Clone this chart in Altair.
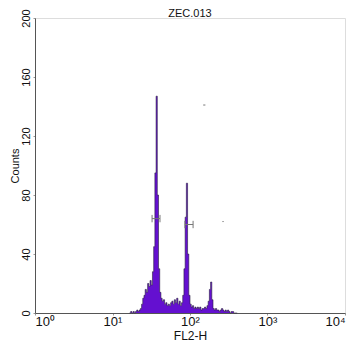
import altair as alt
import pandas as pd

# histogram channels (256-channel log scale, 64 channels per decade)
channels = list(range(78, 168))
counts = [
    0, 1, 0, 1, 0, 1, 2,            # 78-84
    1, 2, 3, 6, 10,                 # 85-89
    12, 16, 14, 20, 18,             # 90-94
    22, 19, 28, 45, 95,             # 95-99
    147, 80, 30, 14, 10,            # 100-104
    8, 9, 6, 7, 5,                  # 105-109
    6, 5, 7, 8, 6,                  # 110-114
    9, 7, 10, 6, 8,                 # 115-119
    5, 7, 12, 30, 65,               # 120-124
    88, 40, 12, 6,                  # 125-128
    4, 5, 3, 4, 3, 4,               # 129-134
    3, 4, 2, 3, 3, 4,               # 135-140
    3, 5, 8, 16, 21,                # 141-145
    9, 3,                           # 146-147
    2, 3, 2, 2, 1, 2, 3, 2,         # 148-155
    1, 2, 1, 2, 1, 0, 1,            # 156-162
    1, 0, 0, 0, 0,                  # 163-167
]

# gate markers (x-start, x-end, y)
gate_x1 = [32.4, 86.0, 148.0, 262.0]
gate_x2 = [41.0, 109.6, 158.0, 272.0]
gate_y = [64, 60, 141, 62]
gate_cap = [True, True, False, False]

x_ticks = [1, 10, 100, 1000, 10000]
y_ticks = [0, 40, 80, 120, 160, 200]

hist = pd.DataFrame({
    "lo": [10 ** (c / 64) for c in channels],
    "count": counts,
})

gates = pd.DataFrame({"x1": gate_x1, "x2": gate_x2, "y": gate_y})
caps = pd.DataFrame({
    "x": [v for i, v in enumerate(gate_x1) if gate_cap[i]] + [v for i, v in enumerate(gate_x2) if gate_cap[i]],
    "y": [gate_y[i] for i in range(len(gate_y)) if gate_cap[i]] * 2,
})
caps["ylo"] = caps["y"] - 2.5
caps["yhi"] = caps["y"] + 2.5

font = "Liberation Sans"

xscale = alt.Scale(type="log", domain=[1, 10000])
yscale = alt.Scale(domain=[0, 200])

xaxis = alt.Axis(
    values=x_ticks,
    labelExpr="datum.value == 1 ? '10⁰' : datum.value == 10 ? '10¹' : datum.value == 100 ? '10²' : datum.value == 1000 ? '10³' : '10⁴'",
    grid=False, tickSize=2, tickColor="#999", domainColor="#555",
    labelFont=font, labelFontSize=13, labelColor="#111", labelPadding=0,
    title="FL2-H", titleFont=font, titleFontSize=12, titleFontWeight="normal",
    titleColor="#111", titlePadding=2,
)
yaxis = alt.Axis(
    values=y_ticks, grid=False, tickSize=2, tickColor="#999", domainColor="#555",
    labelFont=font, labelFontSize=11, labelColor="#111", labelAngle=270,
    labelAlign="center", labelBaseline="bottom", labelPadding=2,
    title="Counts", titleFont=font, titleFontSize=11, titleFontWeight="normal",
    titleColor="#111", titlePadding=0,
)

area = alt.Chart(hist).mark_area(interpolate="step-after", color="#6410d0", opacity=1).encode(
    x=alt.X("lo:Q", scale=xscale, axis=xaxis),
    y=alt.Y("count:Q", scale=yscale, axis=yaxis),
)
line = alt.Chart(hist).mark_line(interpolate="step-after", color="#2a2040", strokeWidth=0.6).encode(
    x=alt.X("lo:Q", scale=xscale),
    y=alt.Y("count:Q", scale=yscale),
)
gate_rules = alt.Chart(gates).mark_rule(color="#777", strokeWidth=1).encode(
    x=alt.X("x1:Q", scale=xscale), x2="x2:Q", y=alt.Y("y:Q", scale=yscale),
)
cap_rules = alt.Chart(caps).mark_rule(color="#777", strokeWidth=1).encode(
    x=alt.X("x:Q", scale=xscale), y=alt.Y("ylo:Q", scale=yscale), y2="yhi:Q",
)

chart = alt.layer(area, line, gate_rules, cap_rules).properties(
    width=310, height=295,
    title=alt.TitleParams("ZEC.013", font=font, fontSize=11, fontWeight="normal",
                          color="#111", offset=1, frame="group", dy=11),
    autosize=alt.AutoSizeParams(type="none"),
    padding={"left": 27, "top": 10, "right": 6, "bottom": 30},
).configure_view(stroke="#999", strokeWidth=1).configure(background="white")

chart.save("out.html", embed_options={"renderer": "svg", "actions": False})
